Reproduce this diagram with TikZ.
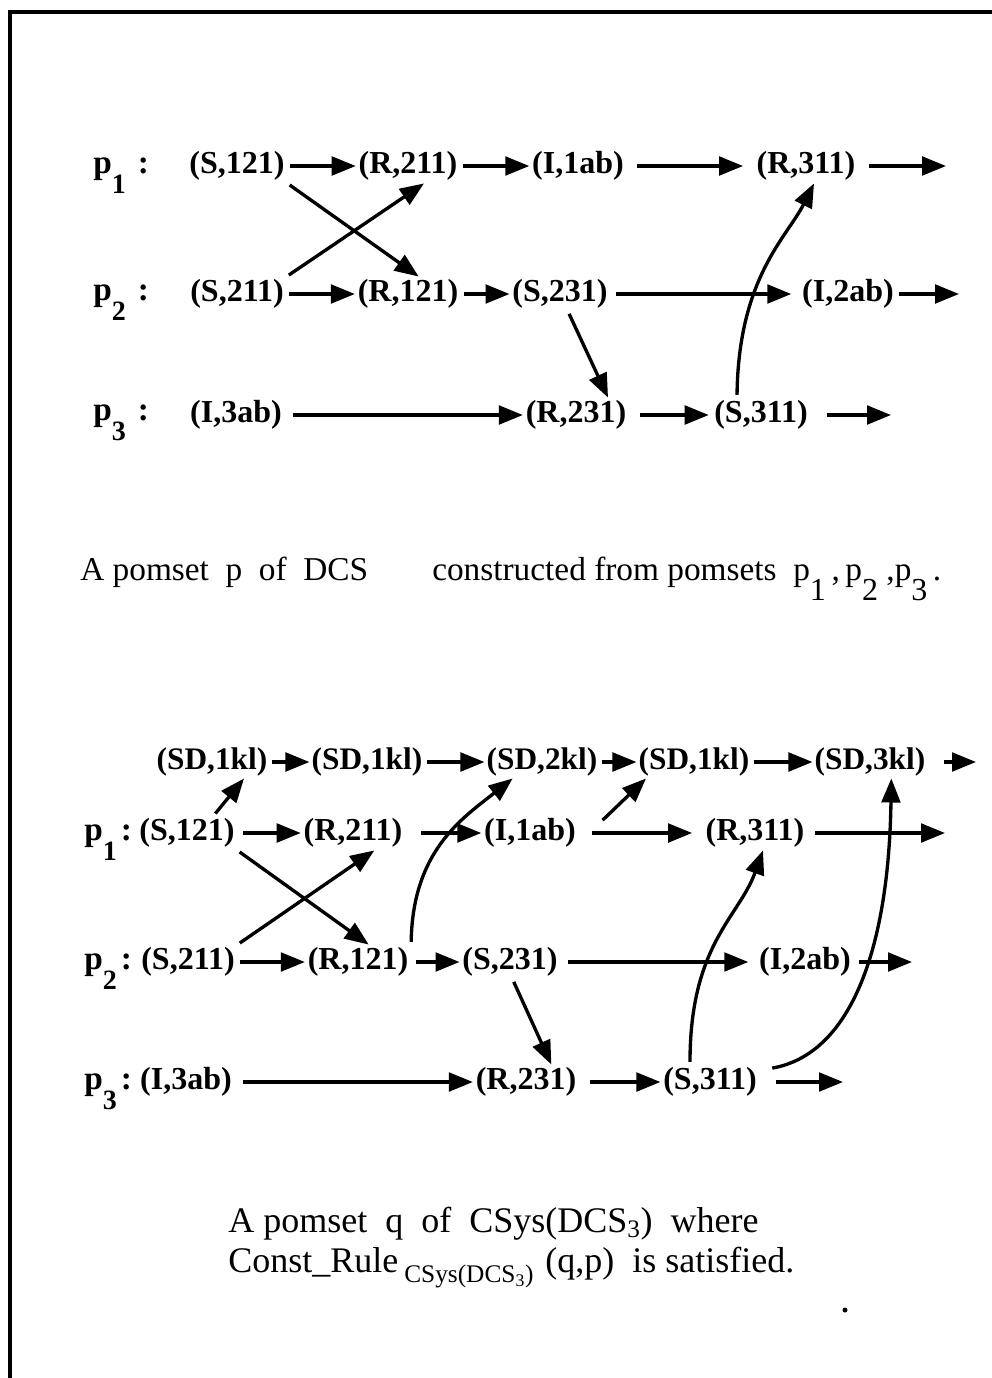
\documentclass[tikz,border=0pt]{standalone}
\usepackage{fontspec}
\setmainfont{Liberation Serif}
\usetikzlibrary{arrows.meta,calc}
\newcommand\mylbl[2]{p\raisebox{-15pt}{\fontsize{21}{21}\selectfont #1}\hspace{#2}:}
\newcommand\capsub[1]{\raisebox{-15pt}{\fontsize{24}{24}\selectfont #1}}
\begin{document}
\begin{tikzpicture}[x=0.75pt,y=-0.75pt,
 ev/.style={font=\fontsize{24}{26}\selectfont\bfseries, inner sep=2pt},
 sdev/.style={font=\fontsize{23.5}{26}\selectfont\bfseries, inner sep=1.5pt},
 lab/.style={font=\fontsize{25}{26}\selectfont\bfseries, anchor=base west, inner sep=0pt},
 arr/.style={line width=2.5pt, -{Triangle[length=18pt,width=14pt]}, shorten <=2pt},
 captxt/.style={font=\fontsize{25}{28}\selectfont, anchor=base west, inner sep=0pt},
 captxtb/.style={font=\fontsize{27}{28}\selectfont, anchor=base west, inner sep=0pt}]
\useasboundingbox (0,0) rectangle (992,1378);
\draw[line width=3pt] (10,1378) -- (10,12) -- (992,12);

% ---------- upper pomset ----------
\node[lab] (lp1a) at (93,173) {\mylbl{1}{9pt}};
\node[lab] (lp2a) at (93,300) {\mylbl{2}{9pt}};
\node[lab] (lp3a) at (93,420) {\mylbl{3}{9pt}};

\node[ev] (s121a) at (237,166) {(S,121)};
\node[ev] (r211a) at (408,166) {(R,211)};
\node[ev] (i1aba) at (578,166) {(I,1ab)};
\node[ev] (r311a) at (806,166) {(R,311)};
\coordinate (e1a) at (946,166);
\node[ev] (s211a) at (237,294) {(S,211)};
\node[ev] (r121a) at (408,294) {(R,121)};
\node[ev] (s231a) at (560,294) {(S,231)};
\node[ev] (i2aba) at (848,294) {(I,2ab)};
\coordinate (e2a) at (959,294);
\node[ev] (i3aba) at (236,415) {(I,3ab)};
\node[ev] (r231a) at (576,415) {(R,231)};
\node[ev] (s311a) at (761,415) {(S,311)};
\coordinate (e3a) at (891,415);

\draw[arr] (s121a) -- (r211a);
\draw[arr] (r211a) -- (i1aba);
\draw[arr, shorten <=8pt, shorten >=8pt] (i1aba) -- (r311a);
\draw[arr, shorten <=8pt] (r311a) -- (e1a);
\draw[arr] (s211a) -- (r121a);
\draw[arr] (r121a) -- (s231a);
\draw[arr, shorten <=4pt, shorten >=6pt] (s231a) -- (i2aba);
\draw[arr, shorten <=2pt] (i2aba) -- (e2a);
\draw[arr, shorten <=6pt] (i3aba) -- (r231a);
\draw[arr, shorten <=8pt, shorten >=2pt] (r231a) -- (s311a);
\draw[arr, shorten <=12pt] (s311a) -- (e3a);

\draw[arr] (s121a.south east) -- ([xshift=8pt]r121a.north);
\draw[arr] (s211a.north east) -- ([xshift=12pt]r211a.south);
\draw[arr] ([xshift=6pt]s231a.south) -- ([xshift=24pt]r231a.north);
\draw[arr] ([xshift=-18pt]s311a.north) .. controls ([xshift=-17pt,yshift=90pt]s311a.north) and ([xshift=-14pt,yshift=-40pt]r311a.south) .. ([xshift=6pt]r311a.south);

% ---------- caption 1 ----------
\node[captxt] (c1a) at (80,580) {A pomset\ \ p\ \ of\ \ DCS};
\node[captxt] (c1b) at (432,580) {constructed from pomsets\ \ p\capsub{1}\,,\,p\capsub{2}\ ,p\capsub{3}\,.};

% ---------- lower pomset ----------
\node[lab] (lp1b) at (84,840) {\mylbl{1}{3pt}};
\node[lab] (lp2b) at (84,969) {\mylbl{2}{3pt}};
\node[lab] (lp3b) at (84,1089) {\mylbl{3}{3pt}};

\node[sdev] (sd1) at (212,762) {(SD,1kl)};
\node[sdev] (sd2) at (367,762) {(SD,1kl)};
\node[sdev] (sd3) at (542,762) {(SD,2kl)};
\node[sdev] (sd4) at (694,762) {(SD,1kl)};
\node[sdev] (sd5) at (870,762) {(SD,3kl)};
\coordinate (e0b) at (976,762);

\node[ev] (s121b) at (187,833) {(S,121)};
\node[ev] (r211b) at (353,833) {(R,211)};
\node[ev] (i1abb) at (530,833) {(I,1ab)};
\node[ev] (r311b) at (755,833) {(R,311)};
\coordinate (e1b) at (945,833);

\node[ev] (s211b) at (188,962) {(S,211)};
\node[ev] (r121b) at (358,962) {(R,121)};
\node[ev] (s231b) at (510,962) {(S,231)};
\node[ev] (i2abb) at (805,962) {(I,2ab)};
\coordinate (e2b) at (912,962);

\node[ev] (i3abb) at (186,1082) {(I,3ab)};
\node[ev] (r231b) at (526,1082) {(R,231)};
\node[ev] (s311b) at (710,1082) {(S,311)};
\coordinate (e3b) at (843,1082);

\draw[arr] (sd1) -- (sd2);
\draw[arr] (sd2) -- (sd3);
\draw[arr] (sd3) -- (sd4);
\draw[arr] (sd4) -- (sd5);
\draw[arr, shorten <=12pt] (sd5) -- (e0b);

\draw[arr, shorten <=4pt] (s121b) -- (r211b);
\draw[arr, shorten <=12pt] (r211b) -- (i1abb);
\draw[arr, shorten <=10pt, shorten >=8pt] (i1abb) -- (r311b);
\draw[arr, shorten <=6pt] (r311b) -- (e1b);

\draw[arr] (s211b) -- (r121b);
\draw[arr, shorten <=4pt] (r121b) -- (s231b);
\draw[arr, shorten <=6pt, shorten >=6pt] (s231b) -- (i2abb);
\draw[arr, shorten <=4pt] (i2abb) -- (e2b);

\draw[arr, shorten <=6pt] (i3abb) -- (r231b);
\draw[arr, shorten <=8pt] (r231b) -- (s311b);
\draw[arr, shorten <=12pt] (s311b) -- (e3b);

\draw[arr] ([xshift=20pt]s121b.north) -- ([xshift=24pt]sd1.south);
\draw[arr] ($(i1abb.east)+(22,-11)$) -- ([xshift=-36pt]sd4.south);
\draw[arr] (s121b.south east) -- ([xshift=8pt]r121b.north);
\draw[arr] (s211b.north east) -- ([xshift=16pt]r211b.south);
\draw[arr] (r121b.north east) .. controls ([xshift=1pt,yshift=70pt]r121b.north east) and ([xshift=-60pt,yshift=-30pt]sd3.south) .. ([xshift=-22pt]sd3.south);
\draw[arr] ([xshift=2pt]s231b.south) -- ([xshift=19pt]r231b.north);
\draw[arr] ([xshift=-15pt]s311b.north) .. controls ([xshift=-15pt,yshift=90pt]s311b.north) and ([xshift=-12pt,yshift=-50pt]r311b.south) .. ([xshift=6pt]r311b.south);
\draw[arr] ($(s311b.north east)+(10,4)$) .. controls ($(s311b.north east)+(90,-10)$) and ([xshift=14pt,yshift=-130pt]sd5.south) .. ([xshift=16pt]sd5.south);

% ---------- caption 2 ----------
\node[captxtb] (c2a) at (228,1232) {A pomset\ \ q\ \ of\ \ CSys(DCS\textsubscript{3})\ \ where};
\node[captxtb] (c2b) at (228,1272) {Const\_Rule\,\raisebox{-8pt}{\fontsize{19}{19}\selectfont CSys(DCS\textsubscript{3})}\,\,(q,p)\ \ is satisfied.};
\fill (845,1310) circle (2.5);
\end{tikzpicture}
\end{document}
